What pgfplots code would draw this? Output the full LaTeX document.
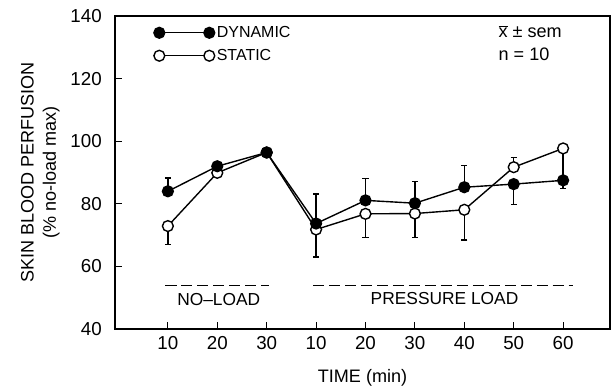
\documentclass[border=0pt]{standalone}
\usepackage{pgfplots}
\pgfplotsset{compat=1.18}
\usepackage{pgfplotstable}
\usepackage{fontspec}
\setmainfont{Liberation Sans}

\pgfplotstableread{
x dyn dep dem sta sep sem
0 84.0 4.2 0   72.9 0   5.9
1 92.0 0   0   89.9 0   0
2 96.4 0   0   96.4 0   0
3 73.7 9.4 0   71.8 0   8.8
4 81.1 7.0 0   76.8 0   7.5
5 80.2 6.9 0   76.9 0   7.7
6 85.3 7.0 0   78.1 0   9.7
7 86.3 0   6.5 91.7 3.0 0
8 87.5 0   2.7 97.7 0   10.0
}\datatab

\newcommand{\tickfont}{\fontsize{13.5}{15}\selectfont}
\newcommand{\txtfont}{\fontsize{12.5}{15}\selectfont}
\newcommand{\legfont}{\fontsize{11.5}{13}\selectfont}

\begin{document}
\begin{tikzpicture}
\begin{axis}[
  scale only axis,
  width=356.4pt, height=225.4pt,
  xmin=-1.07, xmax=8.95, ymin=40, ymax=140,
  xtick={0,...,8},
  xticklabels={10,20,30,10,20,30,40,50,60},
  ytick={40,60,...,140},
  tick align=inside,
  tick pos=left,
  major tick length=5pt,
  axis line style={line width=0.9pt},
  tick style={line width=0.8pt, black},
  /pgf/number format/assume math mode=true,
  ticklabel style={font=\tickfont},
  yticklabel style={xshift=-6pt},
  xticklabel style={yshift=-2pt},
  xlabel={TIME (min)},
  ylabel={SKIN BLOOD PERFUSION\\(\% no-load max)},
  label style={font=\fontsize{13}{16}\selectfont},
  ylabel style={align=center, yshift=1pt},
  xlabel style={yshift=-7pt},
  legend style={draw=none, fill=none, at={(0.078,0.975)}, anchor=north west,
    inner sep=0pt, row sep=4pt, font=\legfont,
    nodes={inner sep=1.5pt}},
  legend cell align=left,
  reverse legend,
  legend image code/.code={\draw[#1, line width=0.5pt] plot coordinates {(0pt,0pt) (36pt,0pt)};},
]
% error bars
\addplot[forget plot, only marks, mark=none,
  error bars/.cd, y dir=both, y explicit,
  error bar style={draw=black, line width=1pt},
  error mark options={rotate=90, mark size=2.2pt, draw=black, line width=1pt}]
  table[x=x, y=sta, y error plus=sep, y error minus=sem] {\datatab};
\addplot[forget plot, only marks, mark=none,
  error bars/.cd, y dir=both, y explicit,
  error bar style={draw=black, line width=1pt},
  error mark options={rotate=90, mark size=2.2pt, draw=black, line width=1pt}]
  table[x=x, y=dyn, y error plus=dep, y error minus=dem] {\datatab};
% static
\addplot[black, line width=1pt, mark=*, mark size=3.9pt,
  mark options={fill=white, draw=black, line width=1pt, solid}]
  table[x=x, y=sta] {\datatab};
\addlegendentry{STATIC}
% dynamic
\addplot[black, line width=1pt, mark=*, mark size=3.9pt,
  mark options={fill=black, draw=black, line width=1pt, solid}]
  table[x=x, y=dyn] {\datatab};
\addlegendentry{DYNAMIC}
% phase markers
\addplot[forget plot, black, line width=0.9pt, dash pattern=on 8pt off 3.5pt]
  coordinates {(-0.05,54) (2.05,54)};
\addplot[forget plot, black, line width=0.9pt, dash pattern=on 8pt off 3.5pt]
  coordinates {(2.94,54) (8.2,54)};
\node[font=\txtfont] at (axis cs:1.03,49.4) {NO–LOAD};
\node[font=\txtfont] at (axis cs:5.6,49.8) {PRESSURE LOAD};
\node[font=\fontsize{13}{15}\selectfont, anchor=north east, align=left, inner sep=0pt]
  at (rel axis cs:0.903,0.97) {$\overline{\hbox{x}}$ ± sem\\[1pt]n = 10};
\end{axis}
\pgfresetboundingbox
\path ([xshift=-82.8pt, yshift=-44.6pt]current axis.south west)
  rectangle ([xshift=1.4pt, yshift=11.5pt]current axis.north east);
\end{tikzpicture}
\end{document}
